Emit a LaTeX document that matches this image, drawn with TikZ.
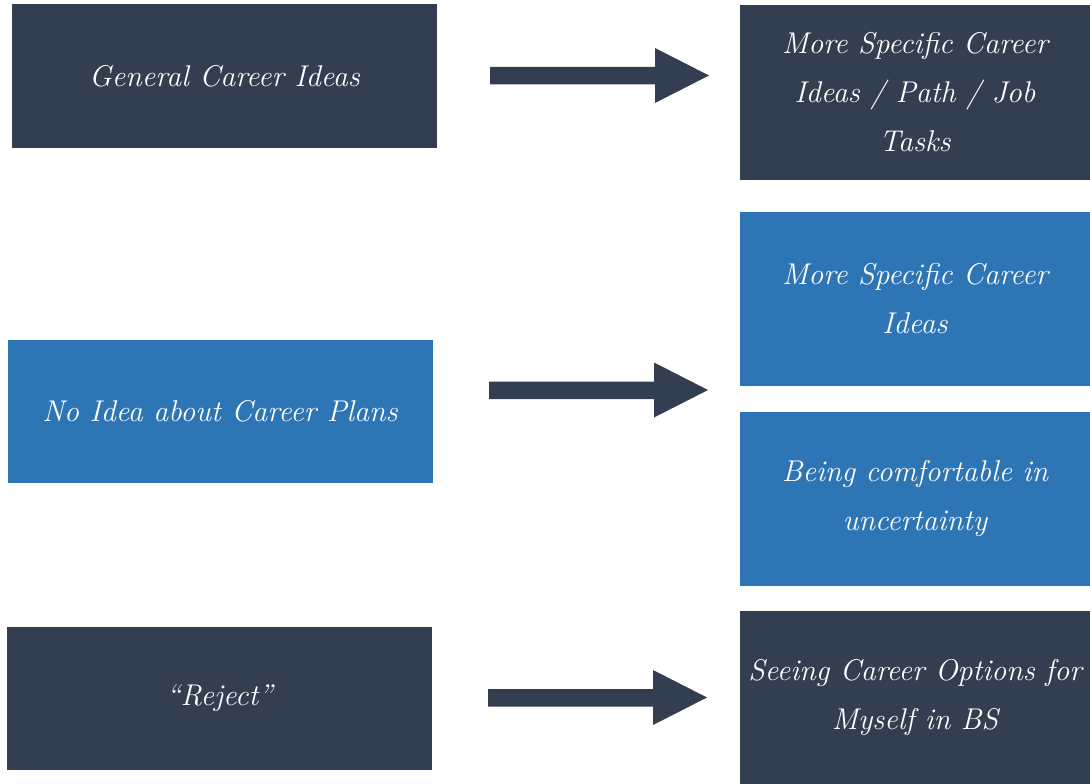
\documentclass[tikz,border=0pt]{standalone}
\usepackage{fontspec}
\definecolor{slatenavy}{HTML}{333F50}
\definecolor{steelblue}{HTML}{2E75B6}
% block arrow: shaft 165 long, 18 thick; head 54 long, 55 tall
\newcommand\drawblockarrow[1]{%
  \fill[arrowfill] (#1) ++(0,-9) -- ++(165,0) -- ++(0,-19) -- ++(54,27.5)
    -- ++(-54,27.5) -- ++(0,-18.5) -- ++(-165,0) -- cycle;}
\begin{document}
\begin{tikzpicture}[x=1pt,y=-1pt,
  box/.style={rectangle, inner sep=0pt, text=white, align=center,
    font=\fontsize{30}{49}\selectfont\itshape},
  leftbox/.style={box, minimum width=425pt, minimum height=143pt},
  rightbox/.style={box, minimum width=350pt, minimum height=174pt},
  darkfill/.style={fill=slatenavy},
  bluefill/.style={fill=steelblue},
  arrowfill/.style={fill=slatenavy}]
\useasboundingbox (0,0) rectangle (1090,784);

% left column
\node[leftbox, darkfill] (general) at (224.5,76) {General Career Ideas};
\node[leftbox, bluefill] (noidea) at (220,411.5) {No Idea about Career Plans};
\node[leftbox, darkfill] (reject) at (219.5,698.5) {``Reject''};

% right column
\node[rightbox, darkfill] (specificpath) at (915,92.5)
  {More Specific Career\\Ideas / Path / Job\\Tasks};
\node[rightbox, bluefill] (specific) at (915,299) {More Specific Career\\Ideas};
\node[rightbox, bluefill] (comfortable) at (915,498.5) {Being comfortable in\\uncertainty};
\node[rightbox, darkfill] (options) at (915,697.5) {Seeing Career Options for\\Myself in BS};

% arrows
\coordinate (arrowA) at (490,76);
\coordinate (arrowB) at (489,390.5);
\coordinate (arrowC) at (488,698);
\drawblockarrow{arrowA}
\drawblockarrow{arrowB}
\drawblockarrow{arrowC}
\end{tikzpicture}
\end{document}
